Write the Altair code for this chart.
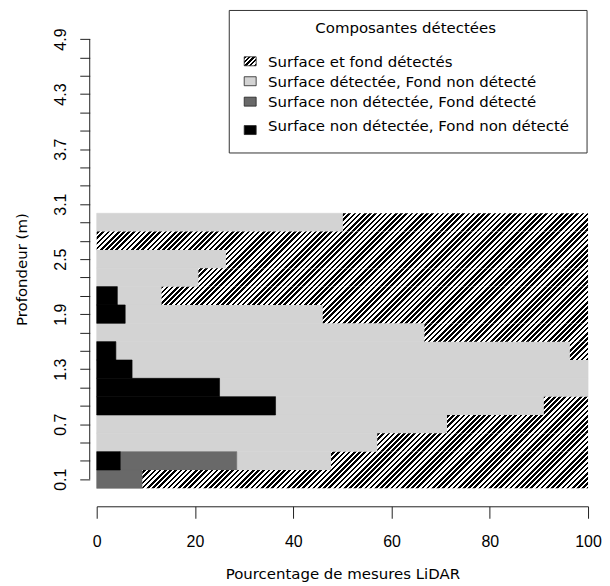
import altair as alt
import pandas as pd
import numpy as np

# ---------------- data ----------------
depth_lo = [0.0, 0.2, 0.4, 0.6, 0.8, 1.0, 1.2, 1.4, 1.6, 1.8, 2.0, 2.2, 2.4, 2.6, 2.8]
depth_hi = [0.2, 0.4, 0.6, 0.8, 1.0, 1.2, 1.4, 1.6, 1.8, 2.0, 2.2, 2.4, 2.6, 2.8, 3.0]

categories = [
    "Surface et fond détectés",
    "Surface détectée, Fond non détecté",
    "Surface non détectée, Fond détecté",
    "Surface non détectée, Fond non détecté",
]
# percentages per depth bin (bottom to top)
both_detected = [90.7, 52.3, 42.9, 28.7, 9.0, 0.0, 0.0, 3.7, 33.3, 54.0, 86.8, 79.3, 73.7, 100.0, 49.9]
surface_only = [0.0, 19.2, 57.1, 71.3, 54.6, 75.0, 92.8, 92.4, 66.7, 40.2, 9.0, 20.7, 26.3, 0.0, 50.1]
bottom_only = [9.3, 23.7, 0.0, 0.0, 0.0, 0.0, 0.0, 0.0, 0.0, 0.0, 0.0, 0.0, 0.0, 0.0, 0.0]
none_detected = [0.0, 4.8, 0.0, 0.0, 36.4, 25.0, 7.2, 3.9, 0.0, 5.8, 4.2, 0.0, 0.0, 0.0, 0.0]

xtick_values = [0, 20, 40, 60, 80, 100]
ytick_values = [0.1, 0.3, 0.5, 0.7, 0.9, 1.1, 1.3, 1.5, 1.7, 1.9, 2.1, 2.3, 2.5,
                2.7, 2.9, 3.1, 3.3, 3.5, 3.7, 3.9, 4.1, 4.3, 4.5, 4.7, 4.9]

solid_colors = ["#d3d3d3", "#696969", "#000000"]

series = [both_detected, surface_only, bottom_only, none_detected]

# ---------------- long table ----------------
rows = []
for ci, (cat, vals) in enumerate(zip(categories, series)):
    for lo, hi, v in zip(depth_lo, depth_hi, vals):
        rows.append({"cat": cat, "lo": lo, "hi": hi, "pct": v, "order": 3 - ci})
df = pd.DataFrame(rows)

# ---------------- layout constants ----------------
W_PLOT, H_PLOT = 493, 460
X_DOM, Y_DOM = [0, 100], [0, 5]
PPX = W_PLOT / (X_DOM[1] - X_DOM[0])
PPY = H_PLOT / (Y_DOM[1] - Y_DOM[0])
PERIOD = 5.2  # horizontal period of hatching (px)

FONT_T = "DejaVu Sans"
FONT_L = "Liberation Sans"
INK = "#222222"


def hatch_gradient(x0, y0, w, h, period=PERIOD):
    """Linear gradient that draws 45deg '/' hatching, phase aligned in plot space."""
    L = w + h
    u0 = x0 + y0
    half = period / 2.0

    def col(u):
        return "black" if int(np.floor(u / half)) % 2 == 0 else "white"

    cur = col(u0 + 1e-6)
    stops = [{"offset": 0, "color": cur}]
    m = int(np.floor(u0 / half)) + 1
    while m * half < u0 + L - 1e-9:
        t = round((m * half - u0) / L, 5)
        nxt = "white" if cur == "black" else "black"
        stops.append({"offset": t, "color": cur})
        stops.append({"offset": t, "color": nxt})
        cur = nxt
        m += 1
    stops.append({"offset": 1, "color": cur})
    k = L * w / (w * w + h * h)
    return {"gradient": "linear", "x1": 0, "y1": 0, "x2": k, "y2": k * h / w, "stops": stops}


x_scale = alt.Scale(domain=X_DOM, nice=False, zero=False)
y_scale = alt.Scale(domain=Y_DOM, nice=False, zero=False)

base = alt.Chart(df).transform_stack(
    stack="pct", groupby=["lo"], as_=["x0", "x1"],
    sort=[alt.SortField("order", order="ascending")],
)

x_axis = alt.Axis(
    values=xtick_values, tickCount=len(xtick_values), title="Pourcentage de mesures LiDAR",
    grid=False, offset=18, tickSize=12, labelPadding=15, titlePadding=17,
    labelFlush=False, labelOverlap=False,
    domainColor=INK, tickColor=INK, domainWidth=1, tickWidth=1,
    labelFont=FONT_L, labelFontSize=16, labelColor="black",
    titleFont=FONT_T, titleFontSize=15, titleFontWeight="normal", titleColor="black",
)
y_axis = alt.Axis(
    values=ytick_values, tickCount=len(ytick_values), title="Profondeur (m)",
    grid=False, domain=False,
    labelExpr="(round(datum.value*10) - 1) % 6 == 0 ? format(datum.value, '.1f') : ''",
    labelAngle=270, labelAlign="center", labelBaseline="bottom",
    offset=7, tickSize=10, labelPadding=11.5, titlePadding=23.4, titleY=240,
    labelOverlap=False, labelFlush=False, labelBound=False,
    tickColor=INK, tickWidth=1,
    labelFont=FONT_L, labelFontSize=16, labelColor="black",
    titleFont=FONT_T, titleFontSize=15, titleFontWeight="normal", titleColor="black",
)

solid_scale = alt.Scale(domain=categories[1:], range=solid_colors)
solid = base.transform_filter(
    (alt.datum.cat != categories[0]) & (alt.datum.pct > 0)
).mark_bar(strokeWidth=0.6).encode(
    x=alt.X("x0:Q", scale=x_scale, axis=x_axis),
    x2="x1:Q",
    y=alt.Y("lo:Q", scale=y_scale, axis=y_axis),
    y2="hi:Q",
    fill=alt.Fill("cat:N", scale=solid_scale, legend=None),
    stroke=alt.Stroke("cat:N", scale=solid_scale, legend=None),
)

layers = [solid]

# hatched segments, one layer each (gradient depends on each bar's size)
for i, (lo, hi) in enumerate(zip(depth_lo, depth_hi)):
    h_val = both_detected[i]
    if h_val <= 0:
        continue
    start = none_detected[i] + bottom_only[i] + surface_only[i]
    x0 = start * PPX
    y0 = (Y_DOM[1] - hi) * PPY
    w = h_val * PPX
    h = (hi - lo) * PPY
    grad = hatch_gradient(x0, y0, w, h)
    lay = base.transform_filter(
        (alt.datum.cat == categories[0]) & (alt.datum.lo == lo)
    ).mark_bar(fill=grad, strokeWidth=0).encode(
        x=alt.X("x0:Q", scale=x_scale),
        x2="x1:Q",
        y=alt.Y("lo:Q", scale=y_scale),
        y2="hi:Q",
    )
    layers.append(lay)

# y axis line from the first to the last tick (R style)
axis_line = alt.Chart(pd.DataFrame({"a": [ytick_values[0]], "b": [ytick_values[-1]]})).mark_rule(
    color=INK, strokeWidth=1
).encode(
    x=alt.value(-7),
    y=alt.Y("a:Q", scale=y_scale),
    y2="b:Q",
)
layers.append(axis_line)

# ---------------- legend ----------------
one = pd.DataFrame({"title": ["Composantes détectées"]})
leg_box = alt.Chart(one).mark_rect(fill="white", stroke="#333333", strokeWidth=1).encode(
    x=alt.value(133), x2=alt.value(492), y=alt.value(-19.5), y2=alt.value(123.5)
)
leg_title = alt.Chart(one).mark_text(
    font=FONT_T, fontSize=15, align="center", baseline="alphabetic", color="black"
).encode(x=alt.value(310), y=alt.value(3.5), text="title:N")
layers += [leg_box, leg_title]

text_base = [37.2, 56.9, 77.2, 101.2]
sym_center = [31.5, 51.5, 72.0, 100.5]
sym_fills = [None] + solid_colors
for ci, cat in enumerate(categories):
    d = pd.DataFrame({"label": [cat]})
    t = alt.Chart(d).mark_text(
        font=FONT_T, fontSize=15, align="left", baseline="alphabetic", color="black"
    ).encode(x=alt.value(172), y=alt.value(text_base[ci]), text="label:N")
    sy0 = sym_center[ci] - 4.5
    if sym_fills[ci] is None:
        fill = hatch_gradient(148, sy0, 12, 9, period=4.6)
    else:
        fill = sym_fills[ci]
    s = alt.Chart(d).mark_rect(fill=fill, stroke=INK, strokeWidth=0.8).encode(
        x=alt.value(148), x2=alt.value(160), y=alt.value(sy0), y2=alt.value(sy0 + 9)
    )
    layers += [s, t]

chart = alt.layer(*layers).properties(
    width=W_PLOT, height=H_PLOT,
    padding={"left": 6, "top": 1, "right": 0, "bottom": 0},
).configure_view(strokeWidth=0)

chart.save("out.html", embed_options={"renderer": "svg", "actions": False})
